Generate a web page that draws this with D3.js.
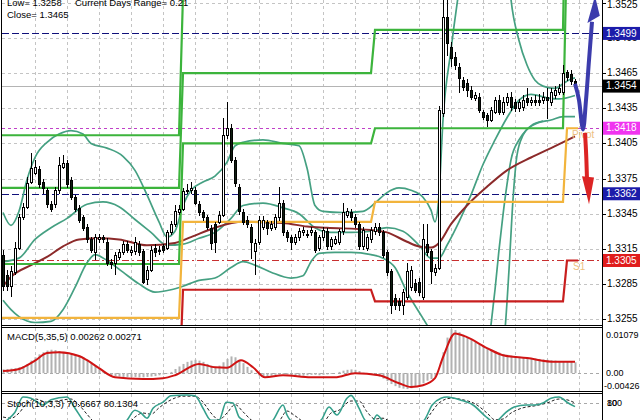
<!DOCTYPE html>
<html><head><meta charset="utf-8">
<script src="https://cdn.jsdelivr.net/npm/d3@7"></script>
<style>
html,body{margin:0;padding:0;background:#fff;}
svg{display:block;font-family:"Liberation Sans",Arial,sans-serif;}
</style></head><body>
<svg id="c" width="640" height="420"></svg>
<script>
// ---------------- DATA ----------------
const opens=[1.3310,1.3293,1.3283,1.3295,1.3316,1.3342,1.3351,1.3372,1.3380,1.3383,
1.3372,1.3365,1.3353,1.3353,1.3365,1.3385,1.3388,1.3374,1.3359,1.3350,
1.3342,1.3334,1.3323,1.3312,1.3323,1.3325,1.3321,1.3304,1.3303,1.3308,
1.3312,1.3319,1.3312,1.3313,1.3319,1.3313,1.3289,1.3297,1.3316,1.3313,
1.3317,1.3316,1.3329,1.3336,1.3346,1.3349,1.3364,1.3365,1.3365,1.3353,
1.3346,1.3342,1.3333,1.3336,1.3338,1.3344,1.3412,1.3418,1.3391,1.3368,
1.3346,1.3340,1.3334,1.3313,1.3321,1.3334,1.3338,1.3333,1.3334,1.3342,
1.3354,1.3329,1.3325,1.3321,1.3325,1.3329,1.3328,1.3329,1.3329,1.3316,
1.3325,1.3330,1.3317,1.3320,1.3321,1.3330,1.3344,1.3346,1.3342,1.3336,
1.3317,1.3316,1.3323,1.3330,1.3334,1.3329,1.3312,1.3296,1.3273,1.3270,
1.3267,1.3274,1.3282,1.3286,1.3287,1.3274,1.3319,1.3313,1.3295,1.3299,
1.3431,1.3513,1.3487,1.3479,1.3470,1.3459,1.3457,1.3451,1.3444,1.3445,
1.3432,1.3429,1.3425,1.3432,1.3442,1.3432,1.3440,1.3445,1.3440,1.3435,
1.3436,1.3444,1.3440,1.3442,1.3442,1.3442,1.3445,1.3440,1.3446,1.3449,
1.3449,1.3466,1.3464,1.3458];
const highs=[1.3314,1.3297,1.3300,1.3321,1.3345,1.3354,1.3376,1.3397,1.3391,1.3386,
1.3375,1.3367,1.3356,1.3368,1.3393,1.3395,1.3391,1.3376,1.3361,1.3352,
1.3344,1.3336,1.3325,1.3328,1.3328,1.3327,1.3324,1.3306,1.3312,1.3315,
1.3322,1.3322,1.3317,1.3325,1.3322,1.3315,1.3300,1.3317,1.3319,1.3317,
1.3319,1.3331,1.3339,1.3352,1.3352,1.3367,1.3370,1.3372,1.3368,1.3356,
1.3348,1.3344,1.3335,1.3338,1.3347,1.3427,1.3440,1.3422,1.3393,1.3370,
1.3349,1.3343,1.3336,1.3323,1.3343,1.3343,1.3340,1.3339,1.3345,1.3368,
1.3357,1.3331,1.3327,1.3328,1.3333,1.3334,1.3331,1.3334,1.3331,1.3327,
1.3334,1.3333,1.3325,1.3326,1.3332,1.3354,1.3350,1.3349,1.3345,1.3338,
1.3334,1.3328,1.3334,1.3337,1.3337,1.3331,1.3314,1.3298,1.3276,1.3273,
1.3281,1.3303,1.3300,1.3289,1.3290,1.3336,1.3336,1.3315,1.3302,1.3437,
1.3531,1.3528,1.3492,1.3483,1.3474,1.3462,1.3460,1.3454,1.3449,1.3448,
1.3434,1.3431,1.3436,1.3445,1.3446,1.3445,1.3448,1.3449,1.3443,1.3443,
1.3446,1.3452,1.3445,1.3446,1.3447,1.3449,1.3452,1.3452,1.3454,1.3456,
1.3472,1.3468,1.3468,1.3460];
const lows=[1.3279,1.3279,1.3274,1.3293,1.3314,1.3340,1.3349,1.3370,1.3378,1.3367,
1.3362,1.3350,1.3346,1.3350,1.3362,1.3383,1.3367,1.3357,1.3346,1.3337,
1.3330,1.3320,1.3311,1.3305,1.3320,1.3320,1.3300,1.3298,1.3293,1.3305,
1.3310,1.3311,1.3309,1.3310,1.3309,1.3285,1.3284,1.3295,1.3308,1.3310,
1.3311,1.3314,1.3327,1.3334,1.3344,1.3347,1.3362,1.3362,1.3352,1.3343,
1.3339,1.3331,1.3314,1.3311,1.3336,1.3342,1.3409,1.3388,1.3368,1.3344,
1.3335,1.3333,1.3306,1.3293,1.3318,1.3331,1.3327,1.3330,1.3331,1.3339,
1.3326,1.3321,1.3314,1.3318,1.3322,1.3326,1.3324,1.3326,1.3311,1.3313,
1.3322,1.3314,1.3314,1.3318,1.3318,1.3327,1.3341,1.3339,1.3333,1.3314,
1.3314,1.3313,1.3320,1.3327,1.3326,1.3307,1.3292,1.3259,1.3263,1.3262,
1.3258,1.3271,1.3279,1.3277,1.3275,1.3271,1.3309,1.3285,1.3292,1.3297,
1.3428,1.3480,1.3470,1.3468,1.3448,1.3450,1.3445,1.3442,1.3441,1.3431,
1.3425,1.3419,1.3423,1.3430,1.3429,1.3429,1.3437,1.3433,1.3432,1.3432,
1.3433,1.3437,1.3437,1.3437,1.3437,1.3439,1.3426,1.3437,1.3443,1.3446,
1.3446,1.3458,1.3455,1.3451];
const closes=[1.3283,1.3283,1.3296,1.3316,1.3342,1.3351,1.3371,1.3384,1.3385,1.3370,
1.3367,1.3353,1.3349,1.3365,1.3387,1.3388,1.3370,1.3359,1.3349,1.3340,
1.3333,1.3323,1.3314,1.3325,1.3325,1.3323,1.3303,1.3302,1.3310,1.3312,
1.3319,1.3314,1.3314,1.3321,1.3312,1.3287,1.3297,1.3314,1.3312,1.3314,
1.3314,1.3329,1.3336,1.3347,1.3349,1.3364,1.3365,1.3367,1.3354,1.3346,
1.3342,1.3334,1.3320,1.3321,1.3344,1.3412,1.3418,1.3391,1.3371,1.3347,
1.3338,1.3336,1.3321,1.3320,1.3340,1.3340,1.3333,1.3336,1.3342,1.3354,
1.3329,1.3325,1.3321,1.3325,1.3330,1.3331,1.3327,1.3331,1.3314,1.3325,
1.3331,1.3317,1.3323,1.3323,1.3330,1.3346,1.3347,1.3342,1.3336,1.3317,
1.3331,1.3325,1.3331,1.3334,1.3329,1.3310,1.3295,1.3267,1.3267,1.3267,
1.3278,1.3296,1.3297,1.3280,1.3278,1.3323,1.3312,1.3296,1.3299,1.3434,
1.3513,1.3491,1.3478,1.3472,1.3461,1.3453,1.3451,1.3445,1.3446,1.3434,
1.3428,1.3425,1.3434,1.3442,1.3432,1.3440,1.3445,1.3436,1.3435,1.3440,
1.3442,1.3440,1.3442,1.3440,1.3440,1.3445,1.3442,1.3449,1.3451,1.3452,
1.3465,1.3462,1.3458,1.3454];

// Bollinger-type bands and moving average as [bar, price]
const bbUpper=[[0,1.3346],[2,1.3335],[4,1.3347],[6,1.3374],[8,1.3393],[11,1.3406],[14,1.3413],[17,1.3416],[20,1.3413],[22,1.3405],[26,1.3401],[30,1.3394],[33,1.3382],[36,1.3361],[39,1.3338],[41,1.3325],[43,1.3330],[45,1.3352],[47,1.3365],[50,1.3372],[53,1.3377],[56,1.3389],[58,1.3403],[60,1.3406],[65,1.3408],[70,1.3405],[74,1.3403],[76,1.3384],[78,1.3352],[80,1.3347],[85,1.3346],[90,1.3347],[93,1.3354],[96,1.3363],[99,1.3367],[102,1.3365],[105,1.3359],[107,1.3348],[108,1.3338],[109,1.3361],[110,1.3425],[112,1.3485],[114,1.3536],[116,1.3579],[120,1.3610],[124,1.3600],[126,1.3565],[127,1.3528],[129,1.3493],[131,1.3472],[133,1.3459],[135,1.3454],[138,1.3452],[140,1.3456],[142,1.3460],[143,1.3461]];
const bbMiddle=[[0,1.3304],[4,1.3307],[8,1.3323],[12,1.3333],[16,1.3341],[21,1.3353],[25,1.3355],[29,1.3351],[33,1.3340],[37,1.3329],[41,1.3318],[45,1.3319],[49,1.3324],[53,1.3329],[57,1.3341],[60,1.3352],[65,1.3354],[70,1.3350],[74,1.3345],[78,1.3333],[82,1.3329],[87,1.3329],[92,1.3330],[96,1.3333],[100,1.3330],[104,1.3318],[107,1.3307],[109,1.3307],[111,1.3318],[114,1.3338],[117,1.3361],[120,1.3387],[123,1.3408],[126,1.3427],[129,1.3442],[132,1.3447],[136,1.3444],[139,1.3443],[143,1.3446]];
const bbLower=[[0,1.3271],[2,1.3263],[4,1.3257],[8,1.3252],[12,1.3253],[15,1.3263],[18,1.3282],[21,1.3303],[23,1.3310],[26,1.3305],[30,1.3295],[34,1.3285],[38,1.3278],[42,1.3280],[45,1.3283],[49,1.3288],[53,1.3290],[57,1.3299],[60,1.3304],[63,1.3301],[67,1.3295],[72,1.3290],[75,1.3292],[77,1.3304],[79,1.3311],[83,1.3312],[87,1.3312],[92,1.3310],[95,1.3307],[98,1.3299],[101,1.3278],[104,1.3261],[106,1.3250],[109,1.3233],[111,1.3211],[114,1.3190],[118,1.3185],[121,1.3215],[122,1.3250],[123,1.3280],[124,1.3314],[125,1.3344],[126,1.3370],[127,1.3391],[129,1.3408],[131,1.3417],[134,1.3423],[137,1.3425],[140,1.3428],[143,1.3428]];
const bbLower2=[[123,1.3200],[125.5,1.3246],[126.5,1.3297],[127.5,1.3357],[128.5,1.3395],[130,1.3412],[132,1.3420],[135,1.3424]];
const maSlow=[[0,1.3283],[2,1.3291],[7,1.3301],[11,1.3308],[15,1.3317],[19,1.3323],[24,1.3324],[29,1.3323],[36,1.3318],[43,1.3320],[47,1.3325],[53,1.3333],[60,1.3338],[70,1.3337],[76,1.3334],[81,1.3333],[92,1.3331],[96,1.3329],[101,1.3321],[104,1.3317],[107,1.3316],[109,1.3320],[112,1.3336],[116,1.3352],[121,1.3368],[126,1.3382],[132,1.3393],[137,1.3401],[143,1.3411]];

// Daily pivot levels (4 sessions)
const dayStart=[0,45,93,141];
const pivotR3=[1.3412,1.3532,1.3565,1.3851];
const pivotR2=[1.3367,1.3465,1.3502,1.3691];
const pivotR1=[1.3302,1.3405,1.3418,1.3578];
const pivotP =[1.3256,1.3338,1.3355,1.3418];
const pivotS1=[1.3191,1.3280,1.3270,1.3305];

// Horizontal price lines and right-axis tags
const hLines=[{v:1.3499,kind:"navy"},{v:1.3418,kind:"magenta"},{v:1.3362,kind:"navy"},{v:1.3305,kind:"red"}];
const bidPrice=1.3454;
const priceTicks=[1.3255,1.3285,1.3315,1.3345,1.3375,1.3405,1.3435,1.3465,1.3495,1.3525];
const tags=[{v:1.3499,kind:"navy"},{v:1.3454,kind:"black"},{v:1.3418,kind:"magenta"},{v:1.3362,kind:"navy"},{v:1.3305,kind:"red"}];

// Forecast arrows, [bar, price]
const arrowUp=[[143,1.3456],[144,1.3442],[145,1.3417],[145.75,1.3442],[146.5,1.3476],[147.25,1.3509]];
const arrowUpHead=[[146.1,1.3508],[149.2,1.3514],[148,1.3531]];
const arrowDown=[[145.5,1.3414],[145.8,1.3395],[146,1.3374]];
const arrowDownHead=[[144.75,1.3377],[147.75,1.3376],[146.5,1.3353]];

// MACD(5,35,5): main histogram (x1e-3) and signal [bar, x1e-3]
const macdMainMilli=[0.9,1.0,1.1,1.2,1.4,1.7,2.2,
3.0,3.8,4.5,5.0,5.4,5.6,
5.5,5.3,5.0,4.8,4.7,4.5,4.2,3.8,3.2,2.5,
1.8,1.2,0.5,-0.1,
-0.5,-0.7,-0.8,-0.9,-0.9,-0.9,-0.9,-1.0,-1.0,-0.9,-0.8,-0.7,-0.5,-0.3,-0.1,0.3,
1.0,1.6,2.2,2.7,3.0,3.2,3.0,2.7,
2.2,1.8,1.5,1.8,2.6,
3.4,4.0,3.8,3.2,2.4,
1.5,0.7,0.0,-0.6,
-0.9,-0.8,-0.6,-0.4,-0.3,-0.2,-0.3,-0.5,-0.6,-0.7,-0.6,-0.5,-0.4,-0.4,-0.5,-0.4,-0.3,-0.2,0.0,0.3,0.6,
0.8,0.9,0.8,0.5,0.1,-0.2,-0.4,
-0.5,-0.8,-1.3,-1.9,-2.6,
-3.1,-3.5,-3.7,-3.8,-3.6,-3.3,-2.9,-2.4,-1.8,
-1.4,-1.0,-0.3,
5.0,8.5,10.5,10.3,9.8,9.2,
8.6,8.0,7.4,6.9,6.4,6.0,5.6,5.2,4.9,4.6,
4.4,4.2,4.0,3.9,3.8,3.7,3.6,3.5,3.4,3.3,3.2,3.1,3.0,2.9,2.9,2.8,2.7,2.6];
const macdSignalMilli=[[0,0.5],[4,1.0],[8,3.0],[11,4.8],[14,5.0],[19,4.1],[21,3.1],[24,1.2],[28,-1.0],[35,-1.4],[40,-1.2],[43,-0.5],[49,2.2],[53,1.4],[56,1.3],[59.5,3.1],[62.5,1.4],[65.5,-1.0],[70,-0.5],[77,-1.0],[83,-1.0],[88,0.0],[94,-0.5],[99,-2.4],[102,-3.3],[105,-2.9],[108,-1.2],[110,3.8],[113,9.5],[116,8.6],[121,6.0],[125,4.3],[131,3.6],[138,2.7],[143,2.7]];
const macdTicks=[{v:0.01079,t:"0.01079"},{v:0,t:"0.00"},{v:-0.00426,t:"-0.00426"}];

// Stochastic(10,3,3) [bar, value]
const stochMain=[[0,30],[1,37],[3,57],[5,95],[7,92],[10,75],[12,88],[16,95],[18,67],[20,37],[22,15],[26,8],[30,25],[31,37],[33,62],[34.5,55],[36,42],[37.5,67],[40,82],[42,98],[46,100],[48,98],[50,67],[52,37],[54,37],[55.8,82],[57.5,80],[59,45],[60.5,35],[64,18],[67.5,37],[70,75],[71,50],[72,35],[75,20],[79.5,37],[81.5,70],[83.5,50],[86,92],[87,99],[89,67],[90.5,37],[92,28],[93.5,50],[95,35],[100,18],[104,30],[105.3,37],[107.3,75],[109.5,92],[111,95],[114.5,87],[117.5,75],[120.8,45],[121.8,37],[123,30],[123.8,37],[125.8,57],[127.8,70],[130.8,75],[133,75],[135,80],[137,92],[139,95],[141,82],[143,71]];
const stochSignal=[[0,45],[2,42],[4,55],[6,80],[8,90],[11,82],[14,86],[17,90],[19,75],[21,52],[23,30],[27,15],[31,25],[33,45],[35,55],[37,52],[39,68],[42,88],[45,97],[48,97],[50,82],[52,55],[54,38],[56,55],[58,76],[60,58],[62,38],[65,22],[69,35],[71,60],[73,48],[76,30],[80,32],[82,55],[84,62],[87,85],[89,85],[91,58],[93,40],[95,42],[97,32],[101,20],[105,28],[107,55],[109,80],[112,92],[115,88],[118,78],[121,55],[123,38],[125,40],[127,55],[130,68],[133,73],[136,80],[139,90],[141,88],[143,80]];

// ---------------- DRAW ----------------
const N=closes.length;
const PL=2, PR=602;
const svg=d3.select("#c");
const x=d3.scaleLinear().domain([0,150]).range([3,603]);
const y=d3.scaleLinear().domain([1.3255,1.3525]).range([319,3]);
const ym=d3.scaleLinear().domain([-0.00426,0.01079]).range([391,328]);
const ys=d3.scaleLinear().domain([0,100]).range([435,395]);

const defs=svg.append("defs");
[["cm",0,325],["cd",328,391],["cs",394,420]].forEach(([id,a,b])=>{
  defs.append("clipPath").attr("id",id).append("rect").attr("x",PL).attr("y",a).attr("width",PR-PL).attr("height",b-a);
});
svg.append("rect").attr("width",640).attr("height",420).attr("fill","#fff");

const gridC="#c4c4c4";
const gMain=svg.append("g").attr("clip-path","url(#cm)");
const gMacd=svg.append("g").attr("clip-path","url(#cd)");
const gSto=svg.append("g").attr("clip-path","url(#cs)");

// vertical grid every 8 bars
const vGrid=d3.range(8,150,8);
[[gMain,0,325],[gMacd,328,391],[gSto,394,420]].forEach(([g,a,b])=>{
  g.selectAll(null).data(vGrid).enter().append("line")
   .attr("x1",d=>Math.round(x(d))+0.5).attr("x2",d=>Math.round(x(d))+0.5)
   .attr("y1",a).attr("y2",b).attr("stroke",gridC).attr("stroke-dasharray","3,3");
});
gMain.selectAll(null).data(priceTicks).enter().append("line")
  .attr("x1",PL).attr("x2",PR).attr("y1",d=>Math.round(y(d))+0.5).attr("y2",d=>Math.round(y(d))+0.5)
  .attr("stroke",gridC).attr("stroke-dasharray","3,3");
gMacd.append("line").attr("x1",PL).attr("x2",PR).attr("y1",Math.round(ym(0))+0.5).attr("y2",Math.round(ym(0))+0.5)
  .attr("stroke","#a8a8a8").attr("stroke-dasharray","3,3");
gSto.append("line").attr("x1",PL).attr("x2",PR).attr("y1",Math.round(ys(80))+0.5).attr("y2",Math.round(ys(80))+0.5)
  .attr("stroke","#a8a8a8").attr("stroke-dasharray","3,3");

// horizontal price objects
const hStyle={navy:{c:"#10107a",d:"7,3"},magenta:{c:"#c040c8",d:"3,3"},red:{c:"#c83030",d:"7,3,2,3"}};
gMain.selectAll(null).data(hLines).enter().append("line")
  .attr("x1",PL).attr("x2",PR).attr("y1",d=>Math.round(y(d.v))+0.5).attr("y2",d=>Math.round(y(d.v))+0.5)
  .attr("stroke",d=>hStyle[d.kind].c).attr("stroke-dasharray",d=>hStyle[d.kind].d).attr("stroke-width",1);
gMain.append("line").attr("x1",PL).attr("x2",PR).attr("y1",Math.round(y(bidPrice))+0.5).attr("y2",Math.round(y(bidPrice))+0.5)
  .attr("stroke","#b4b4b4");

// bands & MA
const lineP=d3.line().x(d=>x(d[0])).y(d=>y(d[1])).curve(d3.curveMonotoneX);
[bbUpper,bbMiddle,bbLower,bbLower2].forEach(arr=>{
  gMain.append("path").attr("d",lineP(arr)).attr("fill","none").attr("stroke","#45a082").attr("stroke-width",1.7);
});
gMain.append("path").attr("d",lineP(maSlow)).attr("fill","none").attr("stroke","#8c2a2a").attr("stroke-width",2);

// pivots
function levelPts(vals){
  const pts=[];
  vals.forEach((v,d)=>{
    const s=d===0?-1:dayStart[d];
    const e=d<vals.length-1?dayStart[d+1]-1:143.8;
    pts.push([s,v]); pts.push([e,v]);
  });
  return pts;
}
const lineL=d3.line().x(d=>x(d[0])).y(d=>y(d[1]));
[[pivotR3,"#3cb43c"],[pivotR2,"#3cb43c"],[pivotR1,"#3cb43c"],[pivotP,"#f2b43c"],[pivotS1,"#c81e1e"]].forEach(([vals,c])=>{
  gMain.append("path").attr("d",lineL(levelPts(vals))).attr("fill","none").attr("stroke",c).attr("stroke-width",2.2);
});

// candles
const cg=gMain.append("g").attr("shape-rendering","crispEdges");
const idx=d3.range(N);
cg.selectAll(null).data(idx).enter().append("line")
  .attr("x1",i=>Math.round(x(i))+0.5).attr("x2",i=>Math.round(x(i))+0.5)
  .attr("y1",i=>y(highs[i])).attr("y2",i=>y(lows[i])).attr("stroke","#000");
cg.selectAll(null).data(idx).enter().append("rect")
  .attr("x",i=>Math.round(x(i))-0.5)
  .attr("y",i=>Math.round(y(Math.max(opens[i],closes[i])))+0.5)
  .attr("width",2)
  .attr("height",i=>Math.max(0,Math.round(y(Math.min(opens[i],closes[i])))-Math.round(y(Math.max(opens[i],closes[i])))))
  .attr("fill",i=>closes[i]>=opens[i]?"#fff":"#0e1e10").attr("stroke","#000");

// pivot labels
gMain.append("text").attr("x",572).attr("y",y(pivotP[3])+10).text("Pivot").attr("font-size",10).attr("fill","#ecc080");
gMain.append("text").attr("x",573).attr("y",y(pivotS1[3])+10).text("S1").attr("font-size",10).attr("fill","#ecc080");

// arrows
const lineA=d3.line().x(d=>x(d[0])).y(d=>y(d[1])).curve(d3.curveCardinal);
gMain.append("path").attr("d",lineA(arrowUp)).attr("fill","none").attr("stroke","#3c3cac").attr("stroke-width",4).attr("stroke-linejoin","round");
gMain.append("path").attr("d",d3.line().x(d=>x(d[0])).y(d=>y(d[1]))(arrowUpHead)+"Z").attr("fill","#3c3cac");
gMain.append("path").attr("d",lineA(arrowDown)).attr("fill","none").attr("stroke","#dc2424").attr("stroke-width",4);
gMain.append("path").attr("d",d3.line().x(d=>x(d[0])).y(d=>y(d[1]))(arrowDownHead)+"Z").attr("fill","#dc2424");

// MACD
const macdMain=macdMainMilli.map(v=>v/1000);
gMacd.selectAll(null).data(idx).enter().append("rect")
  .attr("x",i=>Math.round(x(i))-0.5).attr("width",2)
  .attr("y",i=>Math.min(ym(0),ym(macdMain[i]))).attr("height",i=>Math.abs(ym(macdMain[i])-ym(0)))
  .attr("fill","#b2b2b2");
gMacd.append("path").attr("d",d3.line().x(d=>x(d[0])).y(d=>ym(d[1]/1000)).curve(d3.curveMonotoneX)(macdSignalMilli))
  .attr("fill","none").attr("stroke","#d01414").attr("stroke-width",2);

// Stochastic
const lineS=d3.line().x(d=>x(d[0])).y(d=>ys(d[1])).curve(d3.curveMonotoneX);
gSto.append("path").attr("d",lineS(stochSignal)).attr("fill","none").attr("stroke","#222").attr("stroke-width",1).attr("stroke-dasharray","3,2");
gSto.append("path").attr("d",lineS(stochMain)).attr("fill","none").attr("stroke","#35a08c").attr("stroke-width",1.6);

// frames
const fr=svg.append("g").attr("stroke","#000").attr("shape-rendering","crispEdges");
fr.append("line").attr("x1",PR+0.5).attr("x2",PR+0.5).attr("y1",0).attr("y2",420);
fr.append("line").attr("x1",1.5).attr("x2",1.5).attr("y1",0).attr("y2",420);
[325.5,327.5,391.5,393.5].forEach(v=>fr.append("line").attr("x1",1).attr("x2",PR+1).attr("y1",v).attr("y2",v));

// right axis
const ax=svg.append("g").attr("font-size",10).attr("fill","#000");
priceTicks.forEach(v=>{
  const yy=Math.round(y(v))+0.5;
  ax.append("line").attr("x1",PR).attr("x2",PR+4).attr("y1",yy).attr("y2",yy).attr("stroke","#000");
  ax.append("text").attr("x",607).attr("y",Math.max(yy,5)).attr("dominant-baseline","middle").text(d3.format(".4f")(v));
});
const tagC={navy:"#1c1caa",black:"#000",magenta:"#f034f0",red:"#e01c1c"};
tags.forEach(t=>{
  const yy=y(t.v);
  ax.append("rect").attr("x",603).attr("y",yy-6.5).attr("width",37).attr("height",13).attr("fill",tagC[t.kind]);
  ax.append("text").attr("x",606).attr("y",yy+0.5).attr("dominant-baseline","middle").attr("fill","#fff").text(d3.format(".4f")(t.v));
});
macdTicks.forEach(t=>{
  const yy=t.v===0.01079?336:ym(t.v)+(t.v<0?-4:0.5);
  ax.append("text").attr("x",t.v<0?604:606).attr("y",yy).attr("font-size",9).attr("dominant-baseline","middle").text(t.t);
});
ax.append("text").attr("x",607).attr("y",403.5).attr("font-size",9).attr("dominant-baseline","middle").text("100");
ax.append("text").attr("x",607).attr("y",403.5).attr("font-size",9).attr("dominant-baseline","middle").text("80");

// panel captions
const tx=svg.append("g").attr("font-size",9.5).attr("fill","#000");
tx.append("text").attr("x",7).attr("y",6).text("Low= 1.3258");
tx.append("text").attr("x",75).attr("y",6).text("Current Days Range= 0.21");
tx.append("text").attr("x",7).attr("y",18).text("Close= 1.3465");
tx.append("text").attr("x",7).attr("y",340).text("MACD(5,35,5) 0.00262 0.00271");
tx.append("text").attr("x",7).attr("y",407).text("Stoch(10,3,3) 70.6667 80.1304");
</script>
</body></html>
